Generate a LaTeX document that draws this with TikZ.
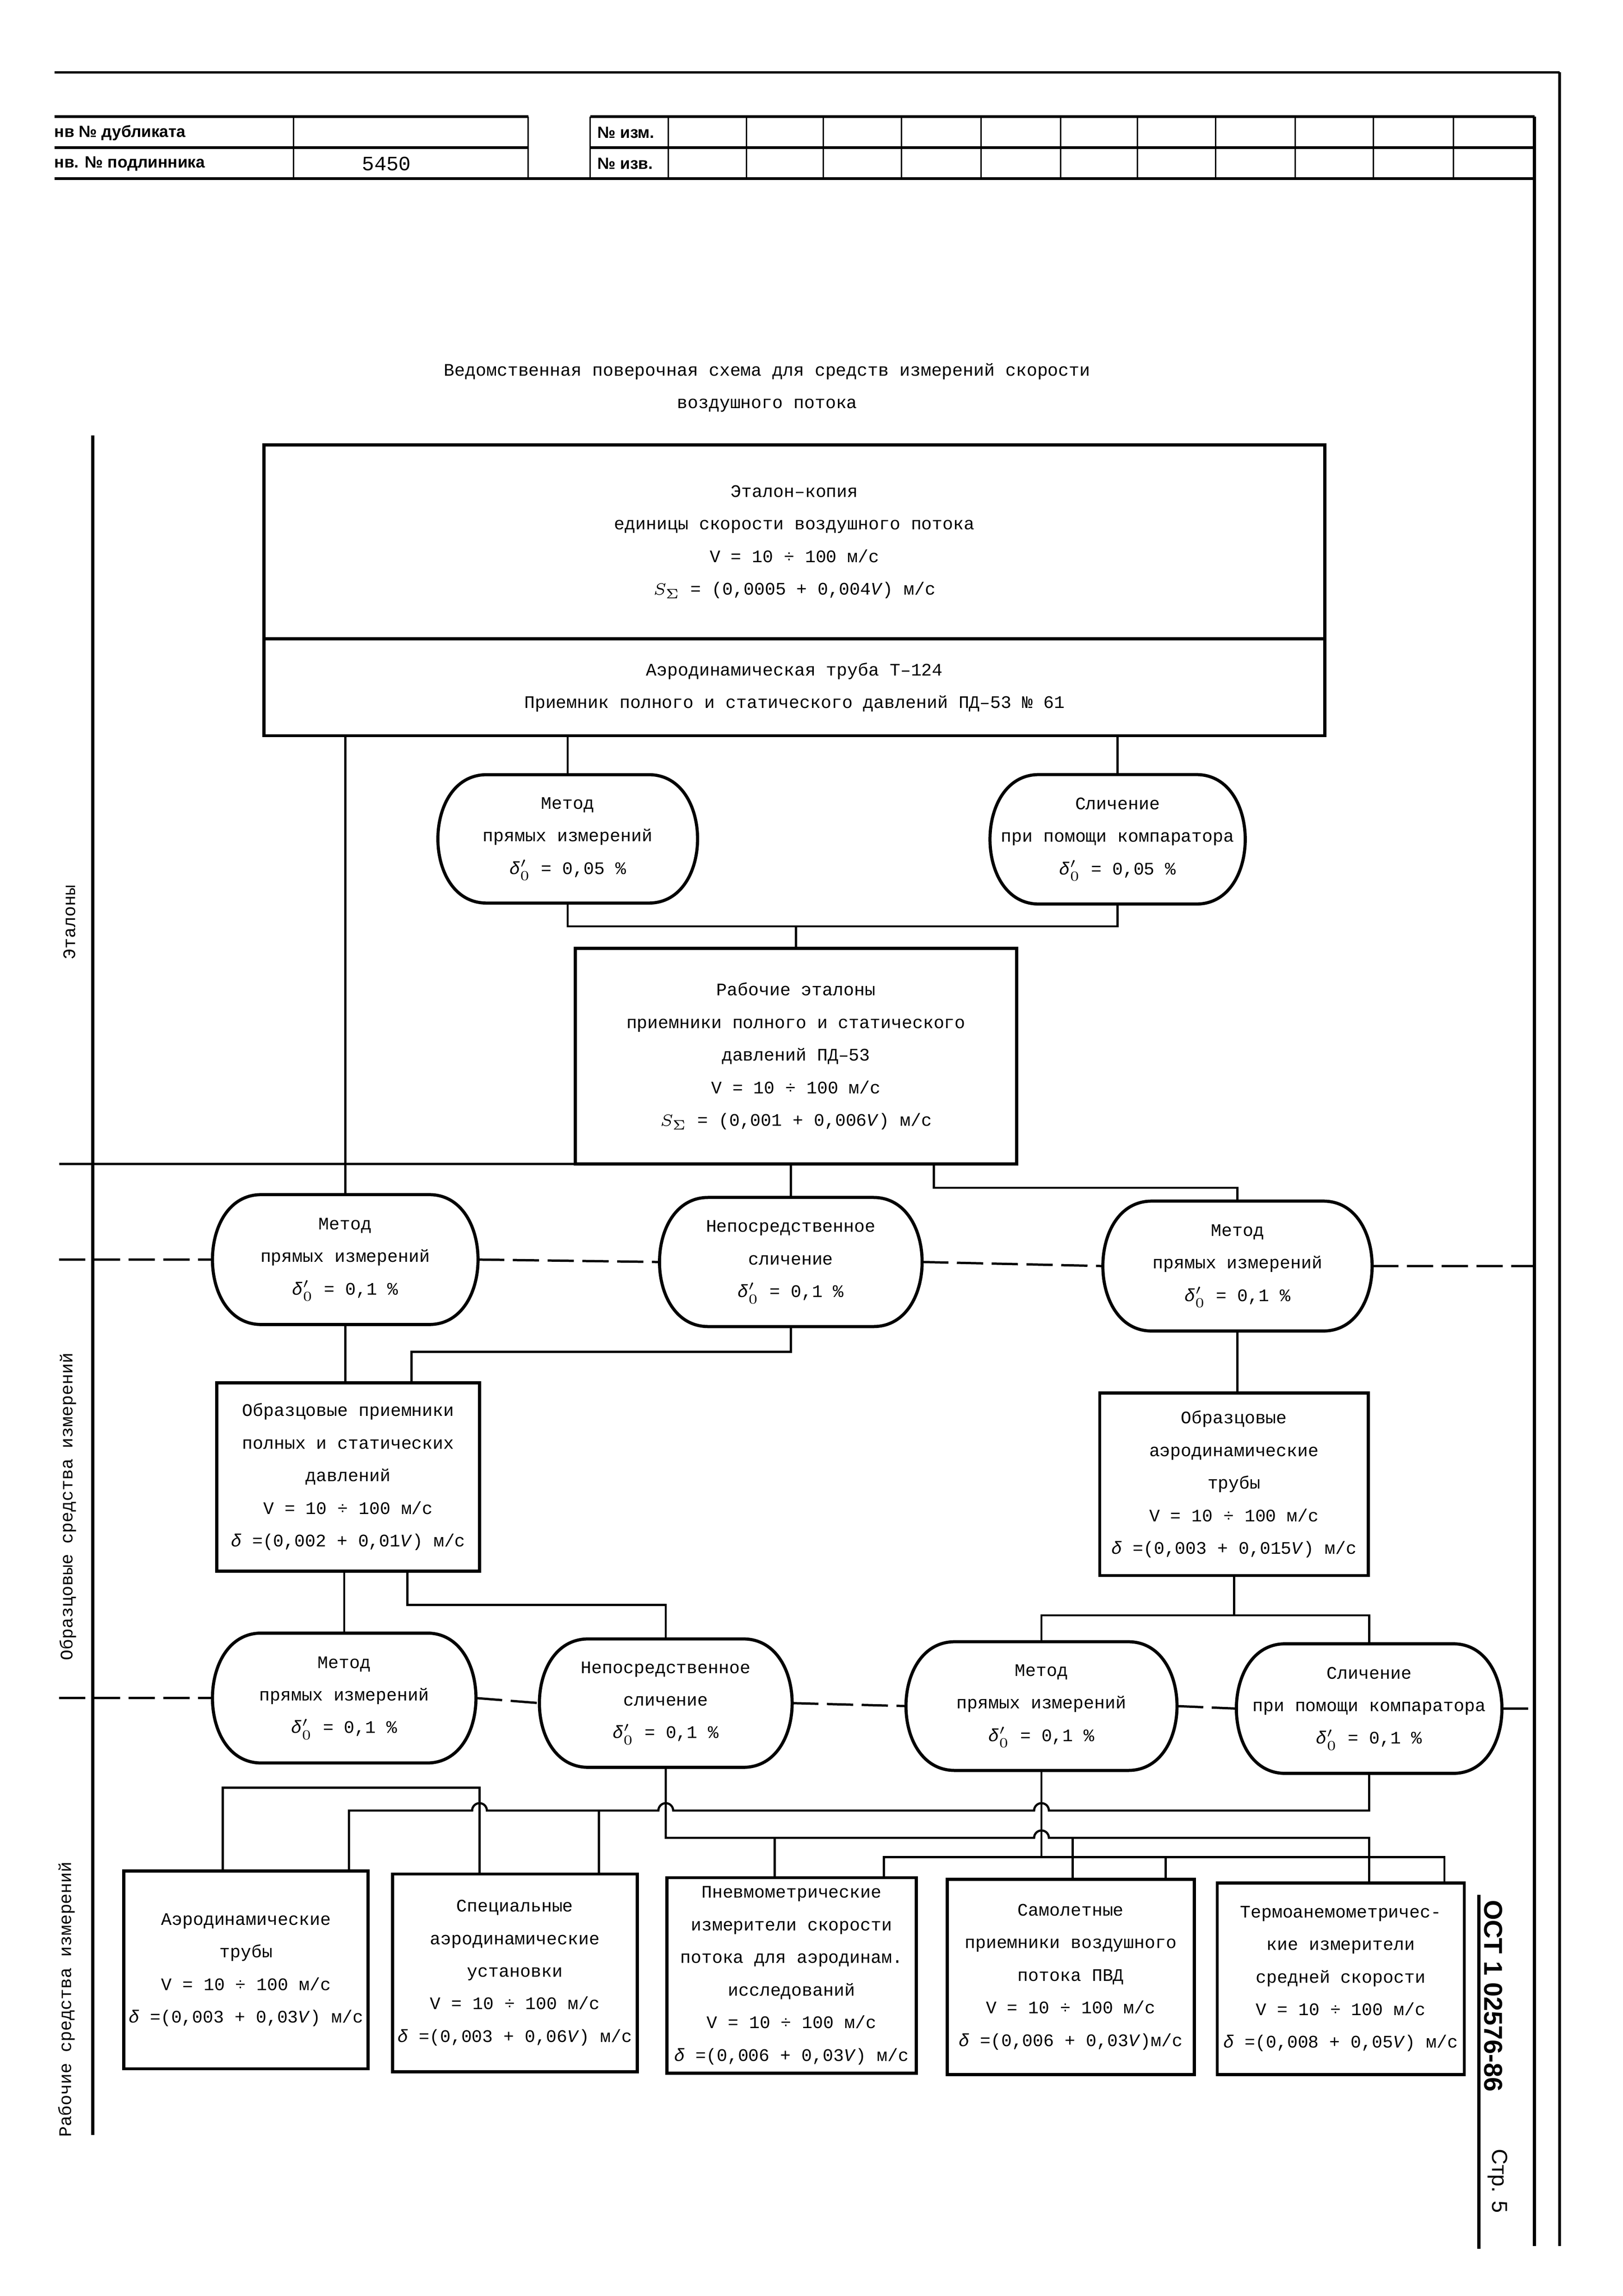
\documentclass[tikz,border=0pt]{standalone}
\usepackage{fontspec}
\setmainfont{Liberation Mono}
\newfontfamily\hdrfont{Liberation Sans}
\usetikzlibrary{positioning,calc}
\newcommand{\dnull}{\textit{δ}\ensuremath{^{\prime}_{0}}}
\newcommand{\ssig}{\ensuremath{S_{\Sigma}}}

\begin{document}
\begin{tikzpicture}[x=0.19091mm,y=-0.19091mm,
  every node/.append style={align=center,inner sep=0pt,outer sep=0pt,font=\fontsize{6.5}{12}\selectfont},
  sz/.style 2 args={minimum width=#1*0.19091mm,minimum height=#2*0.19091mm},
  box/.style={draw,line width=1.15pt},
  oval/.style={line width=1.15pt},
  link/.style={line width=0.8pt},
  sepl/.style={line width=0.85pt,dash pattern=on 3.4mm off 1.1mm},
  brd/.style={line width=1.2pt},
  hdr/.style={font=\hdrfont\bfseries\fontsize{6}{7}\selectfont},]
    \path[use as bounding box,fill=white] (0,0) rectangle (1100,1556);
    \draw[line width=0.8pt] (37,49) -- (1057,49);
    \draw[line width=0.9pt] (37,79) -- (358,79) (400,79) -- (1040,79) (37,100) -- (358,100) (400,100) -- (1040,100) (37,121) -- (1040,121);
    \foreach \x in {199,358,400,453,506,558,611,665,719,771,824,878,931,985}
        \draw[line width=0.5pt] (\x,79) -- (\x,121);
    \draw[brd] (1040,79) -- (1040,1522);
    \draw[line width=1pt] (1057,49) -- (1057,1522);
    \node[hdr,anchor=west] (dup) at (37,90) {нв № дубликата};
    \node[hdr,anchor=west] (orig) at (37,111) {нв. № подлинника};
    \node[font=\fontsize{7.5}{9}\selectfont] (inv) at (262,111) {5450};
    \node[hdr,anchor=west] (izm) at (405,90) {№ изм.};
    \node[hdr,anchor=west] (izv) at (405,111) {№ изв.};
    \node (ttl) at (520,262.75) {Ведомственная поверочная схема для средств измерений скорости\\воздушного потока};
    \node[rotate=90] (lab1) at (47,625) {Эталоны};
    \node[rotate=90] (lab2) at (46,1021) {Образцовые средства измерений};
    \node[rotate=90] (lab3) at (45,1355) {Рабочие средства измерений};
    \draw[brd] (63,295) -- (63,1447);
    \node[box,sz={719}{131.5}] (Et) at (538.5,367.25) {Эталон–копия\\единицы скорости воздушного потока\\V = 10 ÷ 100 м/с\\\ssig{} = (0,0005 + 0,004\textit{V}) м/с};
    \node[box,sz={719}{65.6},below=0pt of Et] (Tb) {Аэродинамическая труба Т–124\\Приемник полного и статического давлений ПД–53 № 61};
    \node[sz={176}{87}] (M1) at (384.8,568.5) {Метод\\прямых измерений\\\dnull{} = 0,05 \%};
    \node[sz={173}{87.7}] (C1) at (757.5,568.8) {Сличение\\при помощи компаратора\\\dnull{} = 0,05 \%};
    \node[box,sz={299}{146}] (Rw) at (539.5,715.75) {Рабочие эталоны\\приемники полного и статического\\давлений ПД–53\\V = 10 ÷ 100 м/с\\\ssig{} = (0,001 + 0,006\textit{V}) м/с};
    \node[sz={180}{88}] (M2) at (234,853.6) {Метод\\прямых измерений\\\dnull{} = 0,1 \%};
    \node[sz={178}{87.5}] (N2) at (536,855.25) {Непосредственное\\сличение\\\dnull{} = 0,1 \%};
    \node[sz={182.5}{88}] (M3) at (838.75,858) {Метод\\прямых измерений\\\dnull{} = 0,1 \%};
    \node[box,sz={178}{127.7}] (Ob1) at (236,1000.9) {Образцовые приемники\\полных и статических\\давлений\\V = 10 ÷ 100 м/с\\\textit{δ} =(0,002 + 0,01\textit{V}) м/с};
    \node[box,sz={182}{123.7}] (Ob2) at (836.4,1005.9) {Образцовые\\аэродинамические\\трубы\\V = 10 ÷ 100 м/с\\\textit{δ} =(0,003 + 0,015\textit{V}) м/с};
    \node[sz={178.6}{88}] (M4) at (233.3,1150.75) {Метод\\прямых измерений\\\dnull{} = 0,1 \%};
    \node[sz={171.3}{87}] (N4) at (451.25,1154.2) {Непосредственное\\сличение\\\dnull{} = 0,1 \%};
    \node[sz={183.7}{87.2}] (M5) at (705.9,1156.2) {Метод\\прямых измерений\\\dnull{} = 0,1 \%};
    \node[sz={180}{87.8}] (C5) at (928,1157.9) {Сличение\\при помощи компаратора\\\dnull{} = 0,1 \%};
    \node[box,sz={165.5}{134}] (A6) at (166.75,1335) {Аэродинамические\\трубы\\V = 10 ÷ 100 м/с\\\textit{δ} =(0,003 + 0,03\textit{V}) м/с};
    \node[box,sz={166}{134}] (U6) at (349,1337) {Специальные\\аэродинамические\\установки\\V = 10 ÷ 100 м/с\\\textit{δ} =(0,003 + 0,06\textit{V}) м/с};
    \node[box,sz={169}{132.5}] (P6) at (536.5,1338.75) {Пневмометрические\\измерители скорости\\потока для аэродинам.\\исследований\\V = 10 ÷ 100 м/с\\\textit{δ} =(0,006 + 0,03\textit{V}) м/с};
    \node[box,sz={167.5}{132.4}] (S6) at (725.75,1339.8) {Самолетные\\приемники воздушного\\потока ПВД\\V = 10 ÷ 100 м/с\\\textit{δ} =(0,006 + 0,03\textit{V})м/с};
    \node[box,sz={167.5}{130}] (T6) at (908.75,1341) {Термоанемометричес-\\кие измерители\\средней скорости\\V = 10 ÷ 100 м/с\\\textit{δ} =(0,008 + 0,05\textit{V}) м/с};
    \foreach \n in {M1,C1,M2,N2,M3,M4,N4,M5,C5}
        \draw[oval] ($(\n.north west)+(33,0)$) -- ($(\n.north east)+(-33,0)$) .. controls ($(\n.north east)+(11,0)$) and ($(\n.south east)+(11,0)$) .. ($(\n.south east)+(-33,0)$) -- ($(\n.south west)+(33,0)$) .. controls ($(\n.south west)+(-11,0)$) and ($(\n.north west)+(-11,0)$) .. cycle;
    \draw[link] (M2.north |- Tb.south) -- (M2.north);
    \draw[link] (M1.north |- Tb.south) -- (M1.north);
    \draw[link] (C1.north |- Tb.south) -- (C1.north);
    \draw[link] (M1.south) |- ($(Rw.north)+(0,-15)$) -| (C1.south);
    \draw[link] (Rw.north) -- ++(0,-15);
    \draw[link] (N2.north |- Rw.south) -- (N2.north);
    \draw[link] ($(Rw.south east)+(-56,0)$) |- ($(M3.north)+(0,-9)$) -- (M3.north);
    \draw[link] (M2.south) -- (M2.south |- Ob1.north);
    \draw[link] (N2.south) |- ($(Ob1.north east)+(-46,-21)$) -- ($(Ob1.north east)+(-46,0)$);
    \draw[link] (M3.south) -- (M3.south |- Ob2.north);
    \draw[link] (M4.north |- Ob1.south) -- (M4.north);
    \draw[link] ($(Ob1.south east)+(-49,0)$) |- ($(N4.north)+(0,-23)$) -- (N4.north);
    \draw[link] (Ob2.south) -- ++(0,27);
    \draw[link] (M5.north) |- ($(Ob2.south)+(0,27)$) -| (C5.north);
    \coordinate (lft) at (40,0);
    \coordinate (rgt) at (1040,0);
    \draw[link] (Rw.south west) -- (Rw.south west -| lft);
    \draw[sepl] (M2.west -| lft) -- (M2.west) (M2.east) -- (N2.west) (N2.east) -- (M3.west) (M3.east) -- (M3.east -| rgt);
    \draw[sepl] (M4.west -| lft) -- (M4.west) (M4.east) -- (N4.west) (N4.east) -- (M5.west) (M5.east) -- (C5.west) (C5.east) -- (C5.east -| rgt);
    \coordinate (bus1) at (0,1211.5);
    \coordinate (bus2) at (0,1227);
    \coordinate (bus3) at (0,1245.5);
    \coordinate (bus4) at (0,1258.5);
    \coordinate (dL1) at ($(A6.north west)+(67,0)$);
    \coordinate (dL2) at ($(A6.north east)+(-13,0)$);
    \coordinate (dM1) at ($(U6.north west)+(59,0)$);
    \coordinate (dM2) at ($(U6.north east)+(-26,0)$);
    \coordinate (dN3) at ($(P6.north west)+(73,0)$);
    \coordinate (dN4) at ($(P6.north east)+(-22,0)$);
    \coordinate (dO3) at ($(S6.north west)+(85,0)$);
    \coordinate (dO4) at ($(S6.north east)+(-19.5,0)$);
    \coordinate (dP3) at (C5.south |- T6.north);
    \coordinate (dP4) at ($(T6.north east)+(-13.5,0)$);
    \draw[link] (dL1) -- (dL1 |- bus1) -- (dM1 |- bus1) -- (dM1);
    \draw[link] (dL2) -- (dL2 |- bus2) -- ($(dM1 |- bus2)+(-5,0)$) arc[start angle=180,end angle=360,radius=5] -- ($(N4.south |- bus2)+(-5,0)$) arc[start angle=180,end angle=360,radius=5] -- ($(M5.south |- bus2)+(-5,0)$) arc[start angle=180,end angle=360,radius=5] -- (C5.south |- bus2) -- (C5.south);
    \draw[link] (dM2 |- bus2) -- (dM2);
    \draw[link] (N4.south) -- (N4.south |- bus3) -- ($(M5.south |- bus3)+(-5,0)$) arc[start angle=180,end angle=360,radius=5] -- (dP3 |- bus3) -- (dP3);
    \draw[link] (dN3 |- bus3) -- (dN3) (dO3 |- bus3) -- (dO3);
    \draw[link] (M5.south) -- (M5.south |- bus4);
    \draw[link] (dN4) -- (dN4 |- bus4) -- (dP4 |- bus4) -- (dP4);
    \draw[link] (dO4 |- bus4) -- (dO4);
    \draw[brd] (1002.5,1284) -- (1002.5,1524);
    \node[rotate=-90,font=\hdrfont\bfseries\fontsize{9.5}{11}\selectfont] (ost) at (1012,1352.6) {ОСТ 1 02576-86};
    \node[rotate=-90,font=\hdrfont\fontsize{8}{10}\selectfont] (pg) at (1015,1478) {Стр. 5};
\end{tikzpicture}
\end{document}
